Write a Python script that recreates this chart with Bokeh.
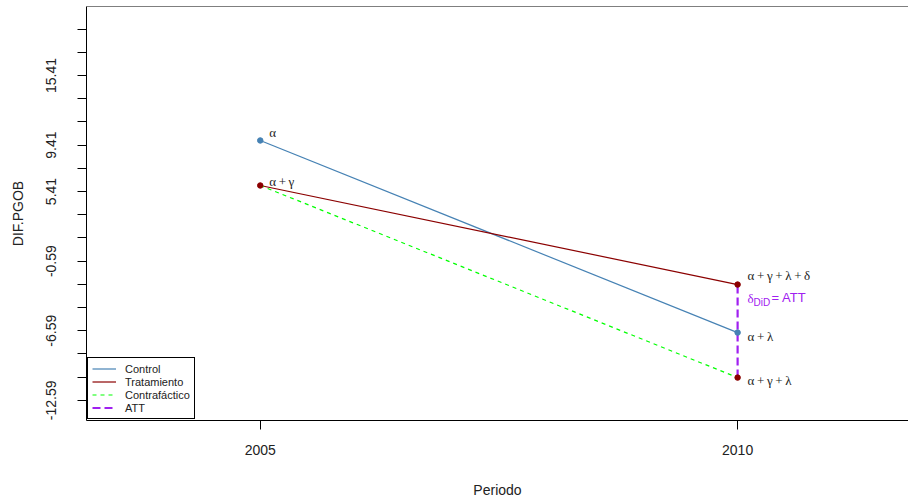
import json
from bokeh.plotting import figure
from bokeh.models import (Range1d, FixedTicker, Legend, LegendItem, Span,
                          CustomJSTickFormatter)
from bokeh.core.properties import value
from bokeh.embed import file_html
from bokeh.resources import INLINE

# ---- data ----
periods = [2005, 2010]
control = [9.81, -6.75]
treatment = [5.93, -2.61]
counterfactual = [5.93, -10.63]

y_tick_values = [-12.59, -10.59, -8.59, -6.59, -4.59, -2.59, -0.59, 1.41, 3.41,
                 5.41, 7.41, 9.41, 11.41, 13.41, 15.41, 17.41, 19.41]
y_tick_shown = ["15.41", "9.41", "5.41", "-0.59", "-6.59", "-12.59"]
x_tick_values = [2005, 2010]

legend_labels = ["Control", "Tratamiento", "Contrafáctico", "ATT"]
point_labels = ["α\u2009+\u2009γ\u2009+\u2009λ\u2009+\u2009δ", "α\u2009+\u2009λ", "α\u2009+\u2009γ\u2009+\u2009λ"]

STEEL = "#4682B4"
DARKRED = "#8B0000"
GREEN = "#00FF00"
PURPLE = "#A020F0"
TXT = "#222222"
SANS = "Liberation Sans"
SERIF = "Liberation Serif"

p = figure(width=908, height=500,
           x_range=Range1d(2003.18, 2011.79), y_range=Range1d(-14.33, 21.36),
           output_backend="svg", toolbar_location=None,
           min_border_left=86, min_border_right=0, min_border_top=6,
           min_border_bottom=80)
p.outline_line_color = None
p.xgrid.visible = False
p.ygrid.visible = False
p.background_fill_color = "white"
p.border_fill_color = "white"

# top border
p.add_layout(Span(location=21.36, dimension="width", line_color="black", line_width=1))

# x axis
xa = p.xaxis[0]
xa.ticker = FixedTicker(ticks=x_tick_values)
xa.axis_line_color = "black"
xa.major_tick_line_color = "black"
xa.major_tick_out = 9
xa.major_tick_in = 0
xa.minor_tick_line_color = None
xa.major_label_text_font = SANS
xa.major_label_text_font_size = "14px"
xa.major_label_text_color = TXT
xa.major_label_standoff = 15
xa.axis_label = "Periodo"
xa.axis_label_text_font = SANS
xa.axis_label_text_font_size = "14px"
xa.axis_label_text_font_style = "normal"
xa.axis_label_text_color = TXT
xa.axis_label_standoff = 24

# y axis
ya = p.yaxis[0]
ya.ticker = FixedTicker(ticks=y_tick_values)
ya.formatter = CustomJSTickFormatter(
    code="const shown = %s; const s = tick.toFixed(2); return shown.includes(s) ? s : '';"
    % json.dumps(y_tick_shown))
ya.axis_line_color = "black"
ya.major_tick_line_color = "black"
ya.major_tick_out = 9
ya.major_tick_in = 0
ya.minor_tick_line_color = None
ya.major_label_orientation = "vertical"
ya.major_label_text_font = SANS
ya.major_label_text_font_size = "14px"
ya.major_label_text_color = TXT
ya.major_label_standoff = 21
ya.axis_label = "DIF.PGOB"
ya.axis_label_text_font = SANS
ya.axis_label_text_font_size = "14px"
ya.axis_label_text_font_style = "normal"
ya.axis_label_text_color = TXT
ya.axis_label_standoff = 18

# lines
r_ctrl = p.line(periods, control, line_color=STEEL, line_width=1.2)
r_trt = p.line(periods, treatment, line_color=DARKRED, line_width=1.2)
r_cf = p.line(periods, counterfactual, line_color=GREEN, line_width=1.2, line_dash="4 4")
r_att = p.line([periods[1], periods[1]], [counterfactual[1], treatment[1]],
               line_color=PURPLE, line_width=2.2, line_dash="8 4")

# points
p.scatter(periods, control, size=5.5, fill_color=STEEL, line_color=STEEL)
p.scatter(periods, treatment, size=5.5, fill_color=DARKRED, line_color=DARKRED)
p.scatter([periods[1]], [counterfactual[1]], size=5.5, fill_color=DARKRED, line_color=DARKRED)

# annotations
p.text(x=[periods[0]], y=[control[0]], text=["α"], x_offset=9, y_offset=-8,
       text_font=value(SERIF), text_font_size="13px", text_color=TXT,
       text_baseline="middle", text_align="left")
p.text(x=[periods[0]], y=[treatment[0]], text=["α\u2009+\u2009γ"], x_offset=9, y_offset=-4,
       text_font=value(SERIF), text_font_size="13px", text_color=TXT,
       text_baseline="middle", text_align="left")
p.text(x=[periods[1]] * 3, y=[treatment[1], control[1], counterfactual[1]],
       text=point_labels, x_offset=10, y_offset=[-9, 4, 3],
       text_font=value(SERIF), text_font_size="13px", text_color=TXT,
       text_baseline="middle", text_align="left")

# delta DiD = ATT
p.text(x=[periods[1]], y=[treatment[1]], text=["δ"], x_offset=10, y_offset=14,
       text_font=value(SERIF), text_font_size="13px", text_color=PURPLE,
       text_baseline="middle", text_align="left")
p.text(x=[periods[1]], y=[treatment[1]], text=["DiD"], x_offset=16, y_offset=18,
       text_font=value(SANS), text_font_size="10px", text_color=PURPLE,
       text_baseline="middle", text_align="left")
p.text(x=[periods[1]], y=[treatment[1]], text=["= ATT"], x_offset=34, y_offset=13,
       text_font=value(SANS), text_font_size="13px", text_color=PURPLE,
       text_baseline="middle", text_align="left")

legend = Legend(items=[LegendItem(label=legend_labels[0], renderers=[r_ctrl]),
                       LegendItem(label=legend_labels[1], renderers=[r_trt]),
                       LegendItem(label=legend_labels[2], renderers=[r_cf]),
                       LegendItem(label=legend_labels[3], renderers=[r_att])],
                location=(1, 1))
legend.border_line_color = "black"
legend.border_line_width = 1
legend.border_line_alpha = 1
legend.background_fill_color = "white"
legend.background_fill_alpha = 1
legend.padding = 4
legend.margin = 0
legend.spacing = 0
legend.glyph_height = 13
legend.glyph_width = 24
legend.label_height = 13
legend.label_standoff = 9
legend.label_text_font = SANS
legend.label_text_font_size = "11px"
legend.label_text_color = TXT
p.add_layout(legend)

open("out.html", "w").write(file_html(p, INLINE))
